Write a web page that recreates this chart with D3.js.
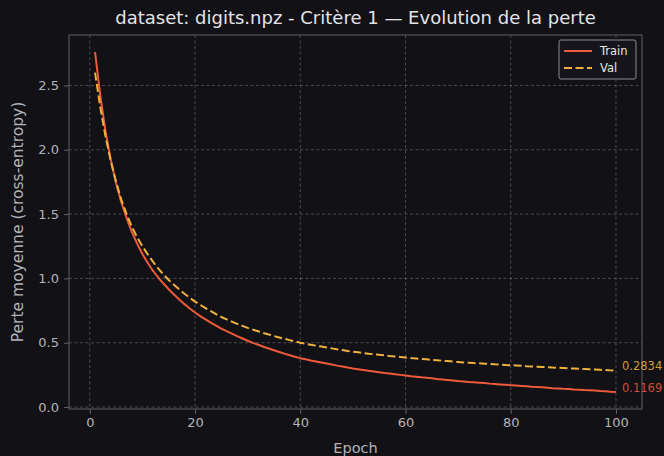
<!DOCTYPE html>
<html>
<head>
<meta charset="utf-8">
<script src="https://cdn.jsdelivr.net/npm/d3@7"></script>
<style>
  html, body { margin: 0; padding: 0; background: #121116; }
  svg { display: block; }
  text { font-family: "DejaVu Sans", sans-serif; }
</style>
</head>
<body>
<div id="chart"></div>
<script>
// Mean cross-entropy loss per epoch (digits.npz, criterion 1)
const trainLoss = [
  2.760, 2.420, 2.140, 1.920, 1.740, 1.590, 1.470, 1.360, 1.270, 1.190,
  1.122, 1.060, 1.007, 0.960, 0.916, 0.875, 0.836, 0.800, 0.766, 0.735,
  0.707, 0.681, 0.656, 0.633, 0.610, 0.590, 0.570, 0.551, 0.533, 0.515,
  0.499, 0.484, 0.469, 0.455, 0.441, 0.428, 0.415, 0.403, 0.391, 0.380,
  0.371, 0.362, 0.354, 0.346, 0.338, 0.330, 0.322, 0.315, 0.307, 0.300,
  0.294, 0.288, 0.282, 0.277, 0.271, 0.265, 0.260, 0.255, 0.250, 0.245,
  0.240, 0.236, 0.231, 0.227, 0.223, 0.218, 0.214, 0.210, 0.206, 0.202,
  0.199, 0.195, 0.192, 0.189, 0.186, 0.182, 0.179, 0.176, 0.173, 0.170,
  0.167, 0.164, 0.161, 0.158, 0.156, 0.153, 0.150, 0.147, 0.145, 0.142,
  0.140, 0.137, 0.135, 0.132, 0.130, 0.128, 0.125, 0.123, 0.1195, 0.1169
];
const valLoss = [
  2.600, 2.330, 2.100, 1.910, 1.750, 1.610, 1.500, 1.400, 1.320, 1.250,
  1.188, 1.130, 1.078, 1.030, 0.988, 0.950, 0.914, 0.880, 0.849, 0.820,
  0.794, 0.769, 0.745, 0.722, 0.700, 0.682, 0.664, 0.647, 0.631, 0.615,
  0.602, 0.589, 0.576, 0.564, 0.552, 0.541, 0.530, 0.520, 0.510, 0.500,
  0.492, 0.484, 0.477, 0.470, 0.463, 0.456, 0.449, 0.443, 0.436, 0.430,
  0.425, 0.420, 0.415, 0.411, 0.406, 0.402, 0.397, 0.393, 0.389, 0.385,
  0.381, 0.378, 0.374, 0.371, 0.367, 0.364, 0.360, 0.357, 0.353, 0.350,
  0.347, 0.345, 0.342, 0.340, 0.337, 0.335, 0.332, 0.330, 0.327, 0.325,
  0.323, 0.321, 0.318, 0.316, 0.314, 0.312, 0.310, 0.307, 0.305, 0.303,
  0.301, 0.299, 0.297, 0.295, 0.293, 0.291, 0.289, 0.287, 0.285, 0.2834
];
const epochs = trainLoss.map((_, i) => i + 1);
const xTicks = [0, 20, 40, 60, 80, 100];
const yTicks = [0.0, 0.5, 1.0, 1.5, 2.0, 2.5];
const seriesNames = ["Train", "Val"];

const W = 664, H = 456;
const M = { left: 69, right: 664 - 642, top: 35, bottom: 456 - 409 };
const iw = W - M.left - M.right, ih = H - M.top - M.bottom;

const colTrain = "#ee5a3a", colVal = "#f0b13e";
const gridCol = "#66666e", axisCol = "#606066", textCol = "#b4b4b8";

const svg = d3.select("#chart").append("svg")
  .attr("width", W).attr("height", H);
svg.append("rect").attr("width", W).attr("height", H).attr("fill", "#121116");

// axis limits padded by 5% like the default autoscale
const allVals = trainLoss.concat(valLoss);
const yMin = d3.min(allVals), yMax = d3.max(allVals);
const yPad = (yMax - yMin) * 0.05;
const xPad = (epochs[epochs.length - 1] - epochs[0]) * 0.05;

const x = d3.scaleLinear()
  .domain([epochs[0] - xPad, epochs[epochs.length - 1] + xPad])
  .range([0, iw]);
const y = d3.scaleLinear()
  .domain([yMin - yPad, yMax + yPad])
  .range([ih, 0]);

const g = svg.append("g").attr("transform", `translate(${M.left},${M.top})`);

// grid
g.append("g").selectAll("line").data(xTicks).join("line")
  .attr("x1", d => x(d)).attr("x2", d => x(d))
  .attr("y1", 0).attr("y2", ih)
  .attr("stroke", gridCol).attr("stroke-width", 0.9)
  .attr("stroke-dasharray", "3,2.5").attr("opacity", 0.75);
g.append("g").selectAll("line").data(yTicks).join("line")
  .attr("x1", 0).attr("x2", iw)
  .attr("y1", d => y(d)).attr("y2", d => y(d))
  .attr("stroke", gridCol).attr("stroke-width", 0.9)
  .attr("stroke-dasharray", "3,2.5").attr("opacity", 0.75);

// axes
const xAxis = g.append("g").attr("transform", `translate(0,${ih})`)
  .call(d3.axisBottom(x).tickValues(xTicks).tickFormat(d3.format("d"))
    .tickSizeInner(5).tickSizeOuter(0).tickPadding(4));
const yAxis = g.append("g")
  .call(d3.axisLeft(y).tickValues(yTicks).tickFormat(d3.format(".1f"))
    .tickSizeInner(5).tickSizeOuter(0).tickPadding(5));
[xAxis, yAxis].forEach(a => {
  a.select(".domain").remove();
  a.selectAll(".tick line").attr("stroke", axisCol).attr("stroke-width", 1);
  a.selectAll(".tick text").attr("fill", textCol).attr("font-size", 13)
    .attr("font-family", "DejaVu Sans, sans-serif");
});

// spines
g.append("rect").attr("x", 0).attr("y", 0).attr("width", iw).attr("height", ih)
  .attr("fill", "none").attr("stroke", axisCol).attr("stroke-width", 1);

// curves
const line = d3.line().x((d, i) => x(epochs[i])).y(d => y(d));
g.append("path").datum(trainLoss).attr("d", line)
  .attr("fill", "none").attr("stroke", colTrain).attr("stroke-width", 2)
  .attr("stroke-linejoin", "round");
g.append("path").datum(valLoss).attr("d", line)
  .attr("fill", "none").attr("stroke", colVal).attr("stroke-width", 2)
  .attr("stroke-dasharray", "8,3.5");

// final value labels
const last = epochs.length - 1;
g.append("text").attr("x", x(epochs[last]) + 6).attr("y", y(valLoss[last]) - 4)
  .attr("dominant-baseline", "middle").attr("font-size", 11.5)
  .attr("fill", colVal).attr("opacity", 0.85).text(valLoss[last].toFixed(4));
g.append("text").attr("x", x(epochs[last]) + 6).attr("y", y(trainLoss[last]) - 4)
  .attr("dominant-baseline", "middle").attr("font-size", 11.5)
  .attr("fill", colTrain).attr("opacity", 0.85).text(trainLoss[last].toFixed(4));

// legend
const lg = svg.append("g").attr("transform", "translate(559,40)");
lg.append("rect").attr("width", 77).attr("height", 39).attr("rx", 2)
  .attr("fill", "#16151b").attr("stroke", "#8a8a90").attr("stroke-width", 1);
seriesNames.forEach((name, i) => {
  const yy = 11 + i * 17;
  lg.append("line").attr("x1", 5).attr("x2", 33).attr("y1", yy).attr("y2", yy)
    .attr("stroke", i === 0 ? colTrain : colVal).attr("stroke-width", 2)
    .attr("stroke-dasharray", i === 0 ? null : "8,3.5");
  lg.append("text").attr("x", 41).attr("y", yy).attr("dominant-baseline", "middle")
    .attr("font-size", 11.5).attr("fill", "#e8e8ea").text(name);
});

// titles
svg.append("text").attr("x", M.left + iw / 2).attr("y", 24)
  .attr("text-anchor", "middle").attr("font-size", 18).attr("fill", "#e4e4e6")
  .text("dataset: digits.npz - Critère 1 — Evolution de la perte");
svg.append("text").attr("x", M.left + iw / 2).attr("y", 453)
  .attr("text-anchor", "middle").attr("font-size", 14.5).attr("fill", textCol)
  .text("Epoch");
svg.append("text").attr("transform", `translate(23,${M.top + ih / 2}) rotate(-90)`)
  .attr("text-anchor", "middle").attr("font-size", 15.5).attr("fill", textCol)
  .text("Perte moyenne (cross-entropy)");
</script>
</body>
</html>
